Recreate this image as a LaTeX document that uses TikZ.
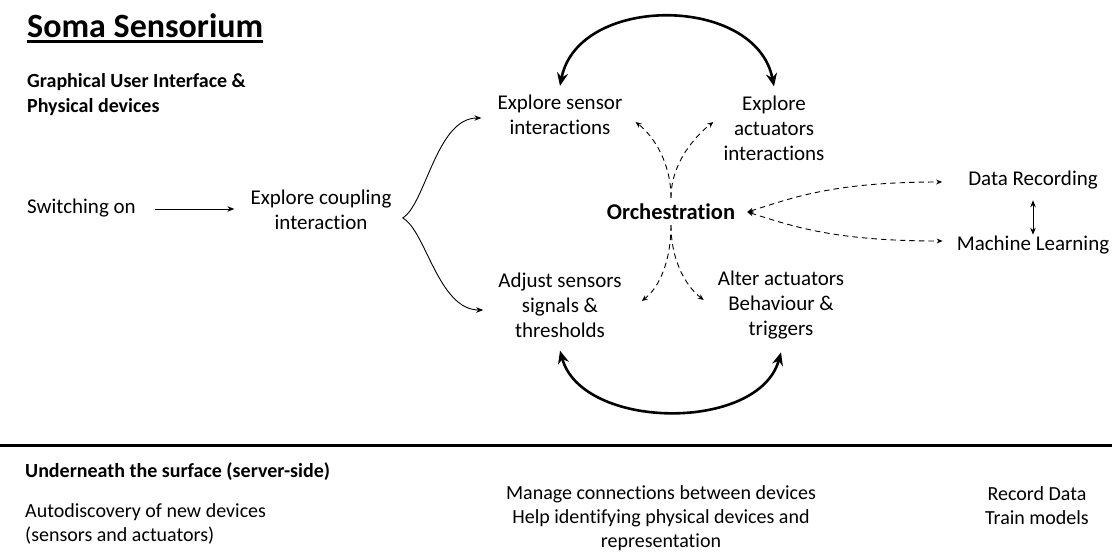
\documentclass[tikz,border=0pt]{standalone}
\usepackage{fontspec}
\setmainfont{Carlito}[Ligatures=NoCommon]
\usetikzlibrary{arrows.meta}

\tikzset{
  lbl/.style={inner sep=2pt, align=center, font=\fontsize{21}{25}\selectfont},
  lowtxt/.style={inner sep=0pt, font=\fontsize{20}{24}\selectfont},
  hdr/.style={inner sep=0pt, anchor=west, align=left, font=\fontsize{20}{25}\selectfont\bfseries},
  thinarrow/.style={line width=0.9pt, -{Stealth[length=7pt,width=5.5pt]}},
  flow/.style={line width=0.9pt, dash pattern=on 5.5pt off 4pt, -{Stealth[length=6pt,width=5pt]}},
  swing/.style={line width=2.6pt, {Stealth[length=13pt,width=11pt]}-{Stealth[length=13pt,width=11pt]}},
}

\begin{document}
\begin{tikzpicture}[x=1pt,y=-1pt]
\useasboundingbox (0,0) rectangle (1112,558);

% headings
\node[anchor=base west, inner sep=0pt, font=\fontsize{34}{40}\selectfont\bfseries] (title) at (27,37) {Soma Sensorium};
\draw[line width=2.3pt] ([yshift=-4.5pt]title.base west) -- ([yshift=-4.5pt]title.base east);
\node[hdr] (gui) at (27,95) {Graphical User Interface \&\\Physical devices};

% upper flow
\node[lbl, anchor=west, inner sep=0pt] (sw) at (27,208) {Switching on};
\node[lbl] (ecp) at (321,210) {Explore coupling\\interaction};
\node[lbl] (esi) at (560,115) {Explore sensor\\interactions};
\node[lbl] (eai) at (774,128) {Explore\\actuators\\interactions};
\node[lbl, font=\fontsize{22.5}{25}\selectfont\bfseries] (orch) at (671,212) {Orchestration};
\node[lbl] (adj) at (560,305) {Adjust sensors\\signals \&\\thresholds};
\node[lbl] (alt) at (781,305) {Alter actuators\\Behaviour \&\\triggers};
\node[lbl] (dr) at (1033,180) {Data Recording};
\node[lbl] (ml) at (1033,245) {Machine Learning};

\draw[thinarrow, shorten <=19pt, shorten >=14pt] ([yshift=-1pt]sw.east) -- ([yshift=-1pt]sw.east -| ecp.west);

% fan out from coupling
\draw[thinarrow] ([xshift=9pt,yshift=-8pt]ecp.east) .. controls +(23,-14) and +(-45,0) .. ([xshift=-14pt,yshift=-3pt]esi.west);
\draw[thinarrow] ([xshift=9pt,yshift=-8pt]ecp.east) .. controls +(23,12) and +(-45,0) .. ([xshift=-13pt,yshift=-5pt]adj.west);

% loops between the explore and adjust pairs
\draw[swing] ([yshift=7pt]esi.north) .. controls +(18,-92) and +(-18,-92) .. ([yshift=7pt]eai.north);
\draw[swing] ([yshift=-11pt]adj.south) .. controls +(22,80) and +(-22,80) .. ([yshift=-11pt]alt.south);

% orchestration links
\draw[flow] ([yshift=4pt]orch.north) .. controls +(0,-35) and +(18,14) .. ([xshift=11pt,yshift=-7pt]esi.east);
\draw[flow] ([yshift=4pt]orch.north) .. controls +(0,-35) and +(-18,14) .. ([xshift=-8pt,yshift=6pt]eai.west);
\draw[flow] ([yshift=-3pt]orch.south) .. controls +(0,35) and +(18,-14) .. ([xshift=18pt,yshift=4pt]adj.east);
\draw[flow] ([yshift=-3pt]orch.south) .. controls +(0,35) and +(-18,-14) .. ([xshift=-12pt,yshift=5pt]alt.west);

\draw[flow, {Stealth[length=6pt,width=5pt]}-{Stealth[length=6pt,width=5pt]}] ([xshift=10pt]orch.east) .. controls +(45,-14) and +(-110,0) .. ([xshift=-24pt,yshift=-2pt]dr.west);
\draw[flow, {Stealth[length=6pt,width=5pt]}-{Stealth[length=6pt,width=5pt]}] ([xshift=10pt]orch.east) .. controls +(45,14) and +(-110,0) .. ([xshift=-12pt,yshift=4pt]ml.west);
\draw[thinarrow, {Stealth[length=7pt,width=5.5pt]}-{Stealth[length=7pt,width=5.5pt]}] ([yshift=-9pt]dr.south) -- ([yshift=-1pt]ml.north);

% separator
\coordinate (sepL) at (0,445);
\coordinate (sepR) at (1112,445);
\draw[line width=3pt] (sepL) -- (sepR);

% server side
\node[hdr] (under) at (25,472) {Underneath the surface (server-side)};
\node[lowtxt, anchor=west, align=left] (auto) at (25,524) {Autodiscovery of new devices\\(sensors and actuators)};
\node[lowtxt, align=center] (mng) at (661,518) {Manage connections between devices\\Help identifying physical devices and\\representation};
\node[lowtxt, align=center] (rec) at (1037,506) {Record Data\\Train models};
\end{tikzpicture}
\end{document}
